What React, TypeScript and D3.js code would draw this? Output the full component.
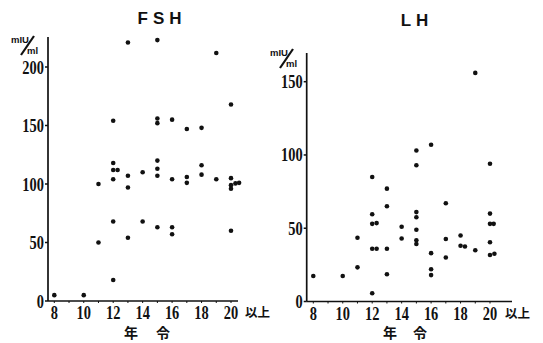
import React from "react";
import * as d3 from "d3";

// FSH (mIU/ml) by age
const fshAge = [13, 15, 19, 20, 12, 15, 15, 16, 17, 18,
  12, 12, 12.3, 12, 11, 13, 13, 14, 15, 15, 15, 16, 17, 17, 18, 18, 19, 20, 20, 20, 20.3, 20.55,
  12, 14, 15, 16, 16, 20, 11, 13, 12, 8, 10];
const fshValue = [221, 223, 212, 168, 154, 156, 152, 155, 147, 148,
  118, 112, 112, 104, 100, 107, 97, 110, 120, 113, 107, 104, 106, 101, 116, 108, 104, 105, 99, 96, 100.5, 101,
  68, 68, 63, 63, 57, 60, 50, 54, 18, 5, 5];

// LH (mIU/ml) by age
const lhAge = [19, 16, 15, 15, 20, 12, 13, 13, 17, 12, 20, 15, 15, 12, 12.3, 20, 20.25, 14, 15, 11, 14, 17, 18,
  12, 12.3, 13, 15, 15, 16, 16, 16, 17, 18, 18.3, 19, 20, 20, 20.3, 8, 10, 11, 13, 12];
const lhValue = [156, 107, 103, 93, 94, 85, 77, 65, 67, 59.5, 60, 61, 57.5, 53, 53.5, 53, 53, 51, 49, 43.5, 43, 42.7, 45,
  36, 36, 36, 41.8, 39.2, 33, 22, 18, 30, 38, 37.5, 35, 40.4, 31.7, 32.6, 17.4, 17.4, 23.3, 18.6, 5.6];

const xTicks = [8, 10, 12, 14, 16, 18, 20];
const fshYTicks = [0, 50, 100, 150, 200];
const lhYTicks = [0, 50, 100, 150];

const INK = "#111";

type PanelProps = {
  title: string;
  titleX: number;
  titleY: number;
  ages: number[];
  values: number[];
  yMax: number;
  yTicks: number[];
  xRange: [number, number];
  yRange: [number, number];
  axisX: number;
  axisTop: number;
  baseEnd: number;
  suffixX: number;
  unitX: number;
  unitY: number;
  nenX: [number, number];
};

function Panel(p: PanelProps) {
  const x = d3.scaleLinear().domain([8, 20]).range(p.xRange);
  const y = d3.scaleLinear().domain([0, p.yMax]).range(p.yRange);
  const base = y(0);
  const minor = d3.range(8, 21);
  return (
    <g>
      <text x={p.titleX} y={p.titleY} textAnchor="middle" fontFamily="Liberation Sans, Arial, sans-serif"
        fontSize={17} fontWeight="bold" letterSpacing={5} fill={INK}>{p.title}</text>
      {/* unit label */}
      <text x={p.unitX} y={p.unitY} fontFamily="Liberation Sans, Arial, sans-serif" fontSize={9.5} fontWeight="bold" fill={INK}>mIU</text>
      <line x1={p.unitX + 10} y1={p.unitY + 12} x2={p.unitX + 23} y2={p.unitY - 7} stroke={INK} strokeWidth={2.2} />
      <text x={p.unitX + 16} y={p.unitY + 11} fontFamily="Liberation Sans, Arial, sans-serif" fontSize={9.5} fontWeight="bold" fill={INK}>ml</text>
      {/* axes */}
      <line x1={p.axisX} y1={p.axisTop} x2={p.axisX} y2={base} stroke={INK} strokeWidth={1.7} />
      <line x1={p.axisX} y1={base} x2={p.baseEnd} y2={base} stroke={INK} strokeWidth={1.7} />
      {p.yTicks.map((t) => (
        <g key={"yt" + t}>
          <line x1={p.axisX - 3} x2={p.axisX} y1={y(t)} y2={y(t)} stroke={INK} strokeWidth={1.5} />
          <g transform={`translate(${p.axisX - 4},${y(t) + 6.5}) scale(0.76,1)`}>
            <text x={0} y={0} textAnchor="end" fontFamily="Liberation Serif, serif" fontWeight="bold" fontSize={19} fill={INK}>{t}</text>
          </g>
        </g>
      ))}
      {minor.map((t) => (
        <line key={"xm" + t} x1={x(t)} x2={x(t)} y1={base} y2={base + 2} stroke={INK} strokeWidth={1} />
      ))}
      {xTicks.map((t) => (
        <g key={"xt" + t} transform={`translate(${x(t)},${base + 18}) scale(0.76,1)`}>
          <text x={0} y={0} textAnchor="middle" fontFamily="Liberation Serif, serif" fontWeight="bold" fontSize={19} fill={INK}>{t}</text>
        </g>
      ))}
      <text x={p.suffixX} y={base + 16} fontFamily="Noto Sans CJK JP, sans-serif" fontWeight="bold" fontSize={12.5} fill={INK}>以上</text>
      <text x={p.nenX[0]} y={338} textAnchor="middle" fontFamily="Noto Sans CJK JP, sans-serif" fontWeight="bold" fontSize={14} fill={INK}>年</text>
      <text x={p.nenX[1]} y={338} textAnchor="middle" fontFamily="Noto Sans CJK JP, sans-serif" fontWeight="bold" fontSize={14} fill={INK}>令</text>
      {p.ages.map((a, i) => (
        <circle key={"pt" + i} cx={x(a)} cy={y(p.values[i])} r={2.3} fill={INK} />
      ))}
    </g>
  );
}

export default function App() {
  return (
    <svg width={543} height={343} style={{ position: "absolute", left: 0, top: 0, background: "#fff" }}>
      <rect width={543} height={343} fill="#fff" />
      <Panel title="FSH" titleX={162} titleY={24} ages={fshAge} values={fshValue} yMax={200} yTicks={fshYTicks}
        xRange={[54.3, 231]} yRange={[301, 67]} axisX={48} axisTop={37} baseEnd={238} suffixX={245}
        unitX={11} unitY={43} nenX={[131, 163]} />
      <Panel title="LH" titleX={417} titleY={26} ages={lhAge} values={lhValue} yMax={150} yTicks={lhYTicks}
        xRange={[313.3, 490]} yRange={[301.5, 81.7]} axisX={306.7} axisTop={53} baseEnd={512} suffixX={505}
        unitX={270} unitY={56} nenX={[390, 420]} />
    </svg>
  );
}
